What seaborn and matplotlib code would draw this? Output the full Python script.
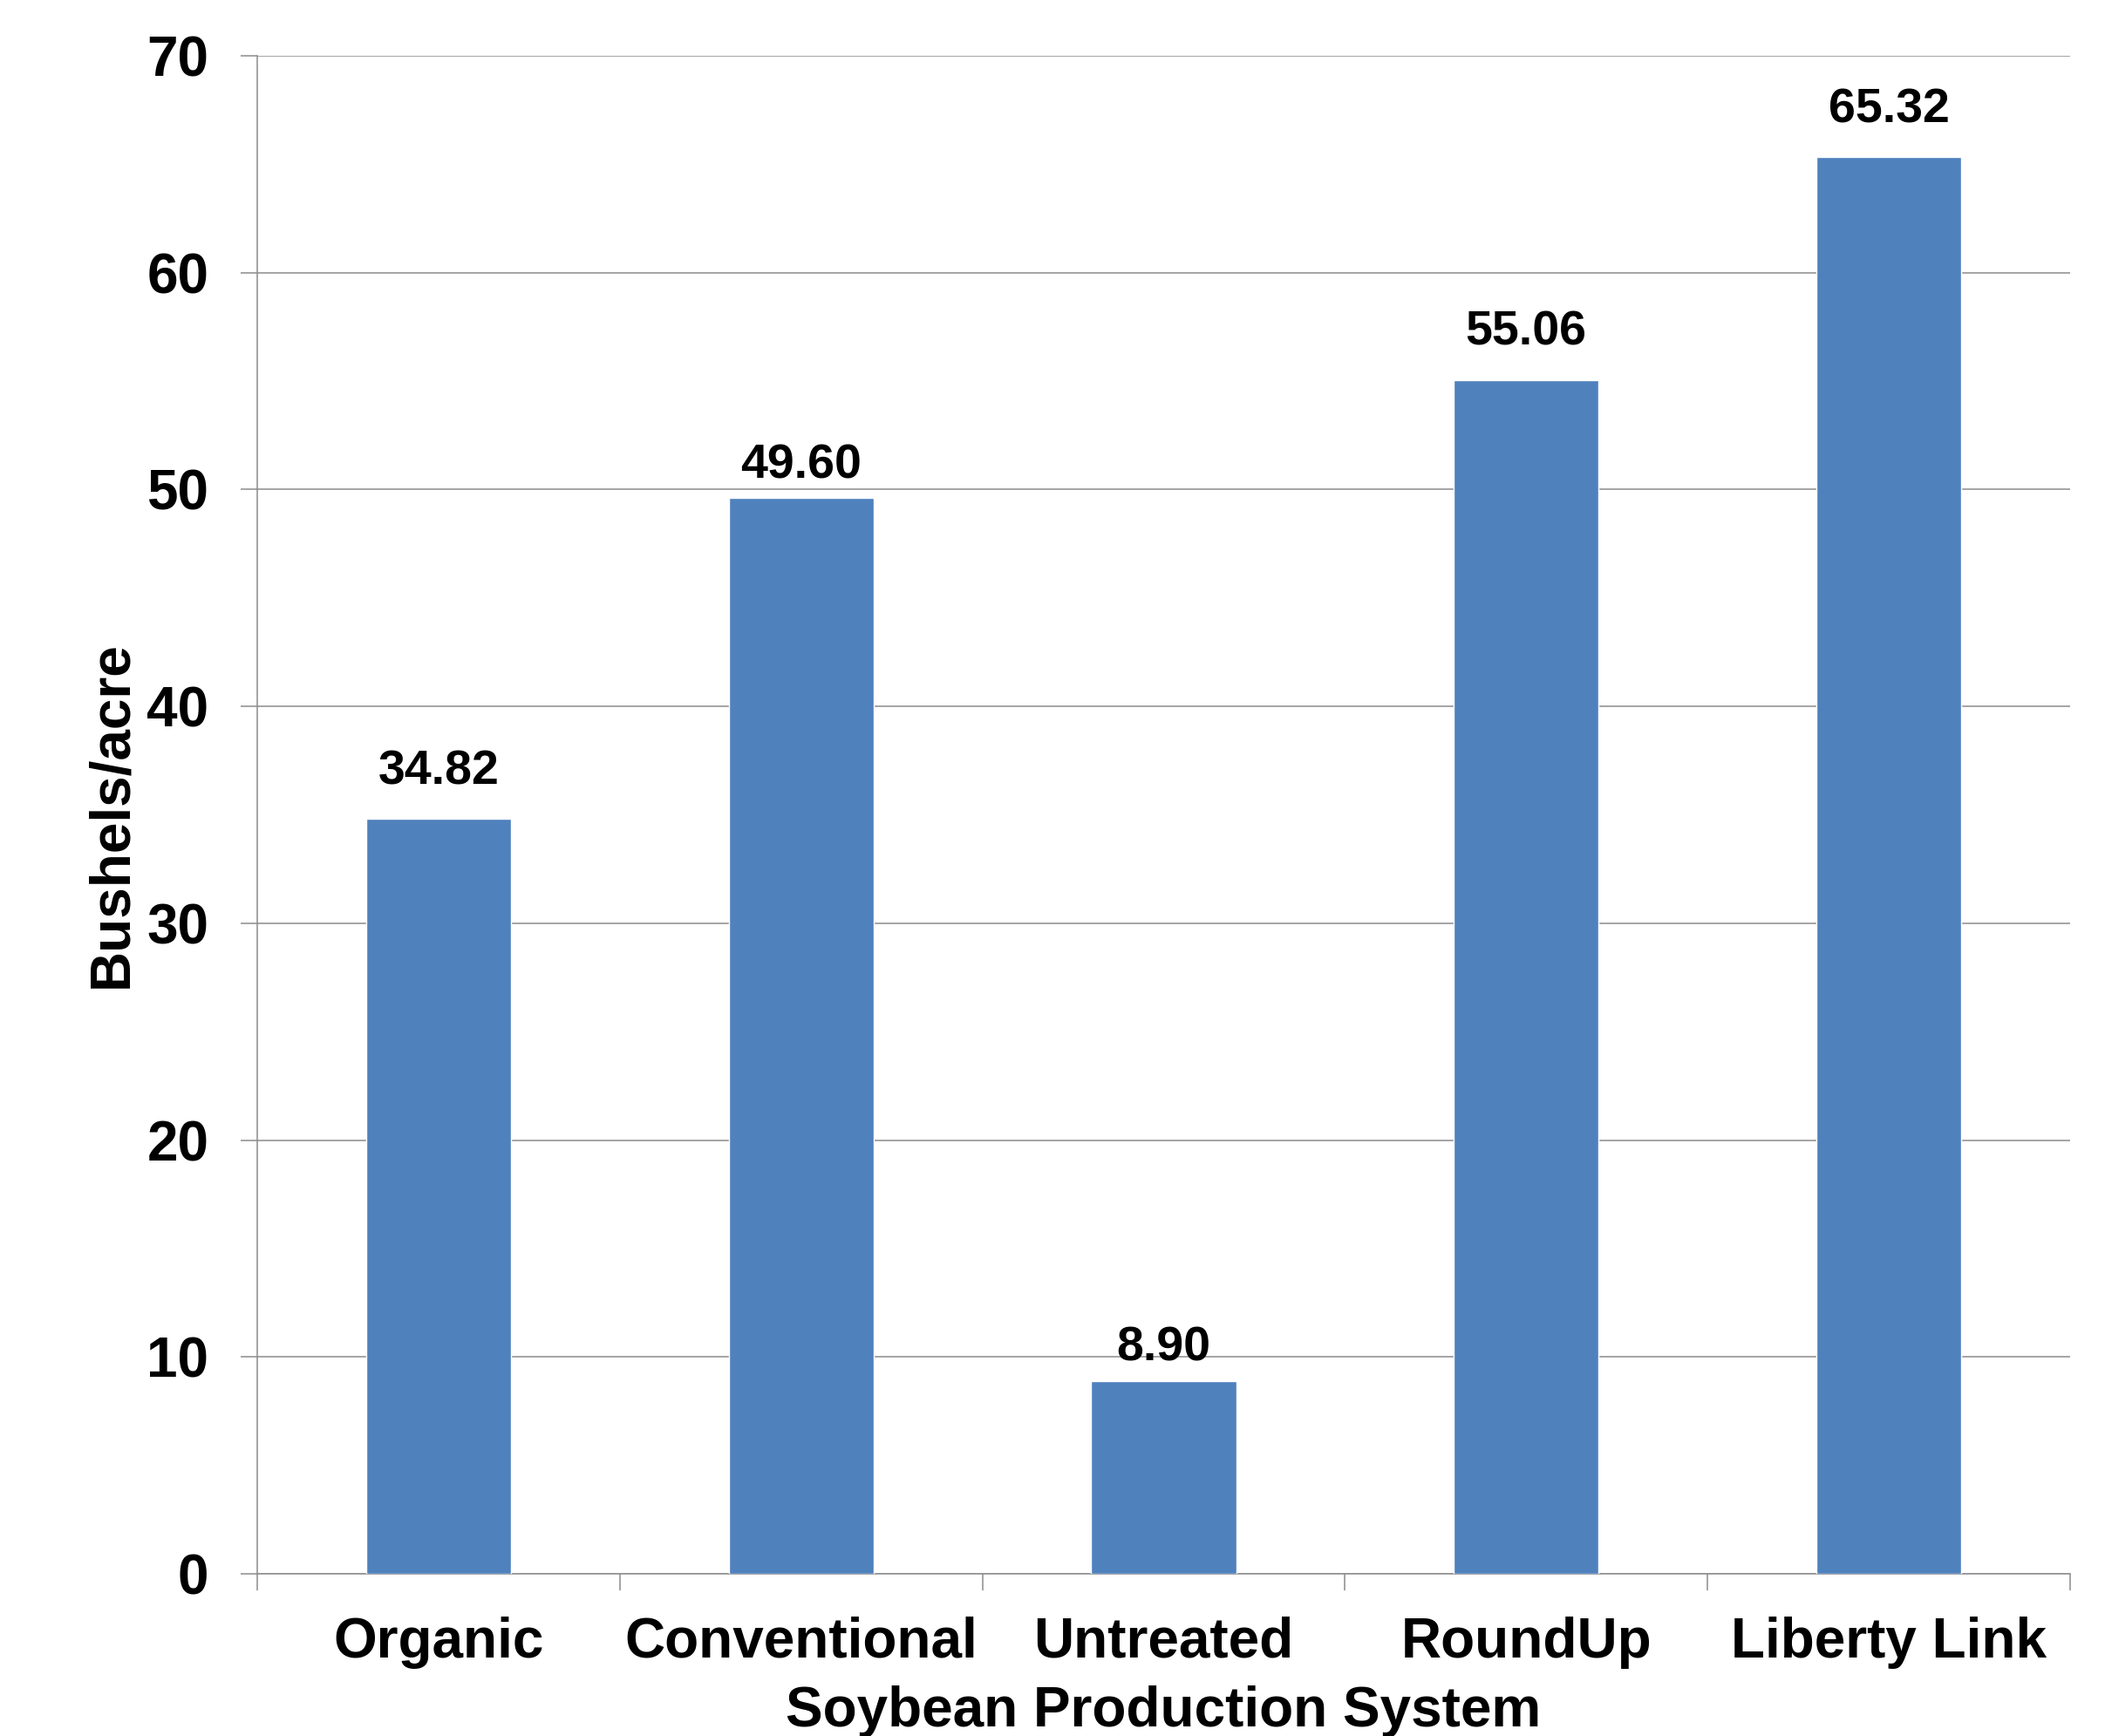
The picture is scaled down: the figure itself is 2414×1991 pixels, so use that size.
import matplotlib
matplotlib.use("Agg")
import matplotlib.pyplot as plt
import seaborn as sns
import pandas as pd

# Yield by production system (bushels/acre)
systems = ['Organic', 'Conventional', 'Untreated', 'RoundUp', 'Liberty Link']
yields = [34.82, 49.60, 8.90, 55.06, 65.32]
y_ticks = [0, 10, 20, 30, 40, 50, 60, 70]

BAR_COLOR = '#4F81BD'
GRID_COLOR = '#8c8c8c'
# label offset above each bar (points) - the original places two of them lower
LABEL_PAD = [20, 8, 8, 20, 20]

sns.set_style("white")
plt.rcParams['font.family'] = ['Liberation Sans', 'DejaVu Sans']
plt.rcParams['font.weight'] = 'bold'
plt.rcParams['text.color'] = 'black'
plt.rcParams['axes.labelcolor'] = 'black'


def generate():
    df = pd.DataFrame({'system': systems, 'yield': yields})

    fig = plt.figure(figsize=(24.14, 19.91), dpi=100)
    ax = fig.add_axes([0.1222, 0.0934, 0.9834 - 0.1222, 0.9679 - 0.0934])

    sns.barplot(data=df, x='system', y='yield', color=BAR_COLOR, width=0.4,
                saturation=1, ax=ax, zorder=3)

    for patch, val, pad in zip(ax.patches, yields, LABEL_PAD):
        ax.annotate(f"{val:.2f}",
                    xy=(patch.get_x() + patch.get_width() / 2, patch.get_height()),
                    xytext=(0, pad), textcoords='offset points',
                    ha='center', va='bottom', fontsize=40, fontweight='bold',
                    color='black', zorder=4)

    ax.set_ylim(0, 70)
    ax.set_xlim(-0.5, len(systems) - 0.5)
    ax.set_yticks(y_ticks)
    ax.set_yticklabels([str(t) for t in y_ticks])

    # horizontal gridlines behind bars
    ax.yaxis.grid(True, color=GRID_COLOR, linewidth=1.1)
    ax.xaxis.grid(False)
    ax.set_axisbelow(True)

    for side in ['top', 'right']:
        ax.spines[side].set_visible(False)
    for side in ['left', 'bottom']:
        ax.spines[side].set_color(GRID_COLOR)
        ax.spines[side].set_linewidth(1.1)

    # x ticks sit at category boundaries, labels at centres
    ax.set_xticks([i - 0.5 for i in range(len(systems) + 1)], minor=False)
    ax.set_xticklabels([''] * (len(systems) + 1))
    ax.set_xticks(range(len(systems)), minor=True)
    ax.set_xticklabels(systems, minor=True, fontsize=46, fontweight='bold')
    ax.tick_params(axis='x', which='major', length=14, width=1.1,
                   color=GRID_COLOR, direction='out', bottom=True)
    ax.tick_params(axis='x', which='minor', length=0, pad=35,
                   labelcolor='black')
    ax.tick_params(axis='y', length=14, width=1.1, color=GRID_COLOR,
                   direction='out', left=True, pad=26, labelsize=46,
                   labelcolor='black')

    ax.set_xlabel('Soybean Production System', fontsize=46,
                  fontweight='bold', labelpad=14)
    ax.set_ylabel('Bushels/acre', fontsize=46, fontweight='bold', labelpad=7)

    fig.savefig('out.png', dpi=100, facecolor='white')
    plt.close(fig)


if __name__ == "__main__":
    generate()
